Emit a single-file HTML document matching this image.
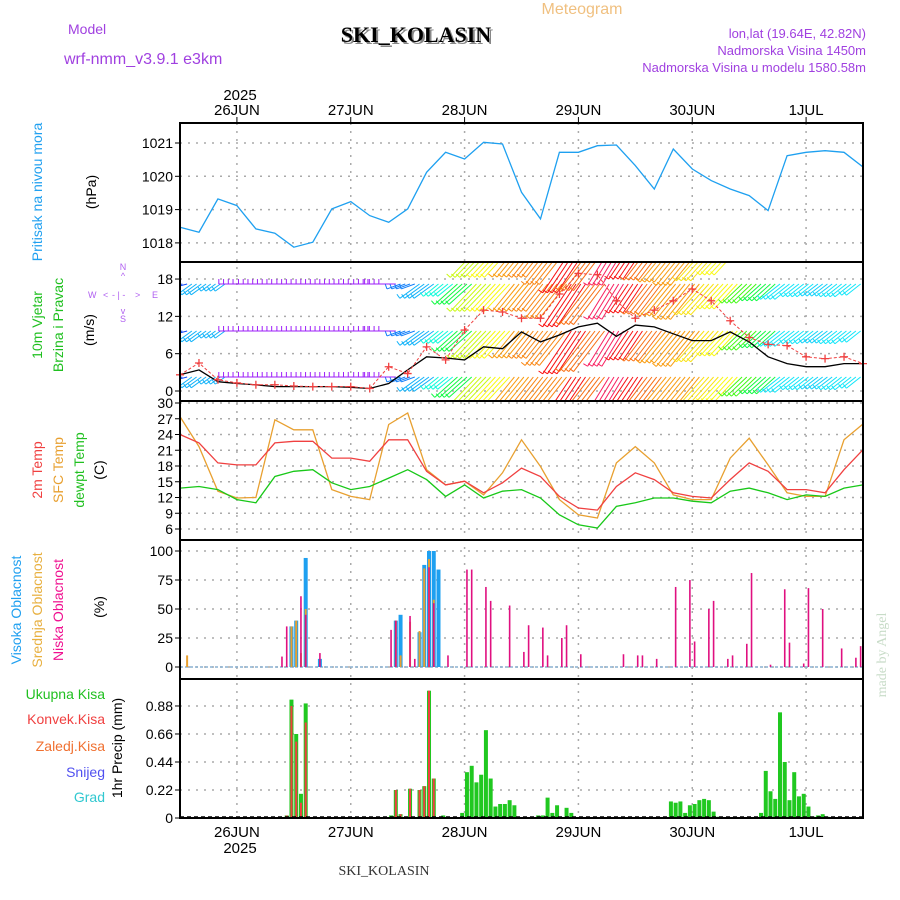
<!DOCTYPE html>
<html><head><meta charset="utf-8"><style>
html,body{margin:0;padding:0;background:#fff;}
svg{display:block;font-family:"Liberation Sans",sans-serif;}
</style></head><body>
<svg id="chart" width="900" height="900" viewBox="0 0 900 900" xmlns="http://www.w3.org/2000/svg">
<defs><clipPath id="clipWind"><rect x="180" y="262" width="683" height="139"/></clipPath></defs>
<text x="582" y="14" fill="#f0c080" font-size="16" text-anchor="middle">Meteogram</text>
<text x="68" y="34" fill="#a040e0" font-size="14">Model</text>
<text x="64" y="64" fill="#a040e0" font-size="16">wrf-nmm_v3.9.1 e3km</text>
<text x="418" y="44" fill="#888" font-size="22" font-weight="bold" text-anchor="middle" font-family="Liberation Serif,serif">SKI_KOLASIN</text>
<text x="416" y="42" fill="#000" font-size="22" font-weight="bold" text-anchor="middle" font-family="Liberation Serif,serif">SKI_KOLASIN</text>
<text x="866" y="38" fill="#a040e0" font-size="13" text-anchor="end">lon,lat (19.64E, 42.82N)</text>
<text x="866" y="55" fill="#a040e0" font-size="13" text-anchor="end">Nadmorska Visina 1450m</text>
<text x="866" y="72" fill="#a040e0" font-size="13" text-anchor="end">Nadmorska Visina u modelu 1580.58m</text>
<text x="240" y="100" font-size="15" text-anchor="middle">2025</text>
<g id="grid"></g>
<g id="marks"></g>
<g id="frame"></g>
<g id="labels" font-size="14">
<text transform="translate(42,192) rotate(-90)" fill="#20a0f0" text-anchor="middle">Pritisak na nivou mora</text>
<text transform="translate(96,192) rotate(-90)" fill="#000" text-anchor="middle">(hPa)</text>
<text transform="translate(42,325) rotate(-90)" fill="#20c020" text-anchor="middle">10m Vjetar</text>
<text transform="translate(63,325) rotate(-90)" fill="#20c020" text-anchor="middle">Brzina i Pravac</text>
<text transform="translate(94,330) rotate(-90)" fill="#000" text-anchor="middle">(m/s)</text>
<g fill="#b060f0" font-size="9">
<text x="123" y="270" text-anchor="middle">N</text><text x="123" y="279" text-anchor="middle">^</text>
<text x="88" y="298">W</text><text x="103" y="298">&lt;</text><text x="112" y="298">- | -</text><text x="135" y="298">&gt;</text><text x="152" y="298">E</text>
<text x="123" y="314" text-anchor="middle">v</text><text x="123" y="322" text-anchor="middle">S</text>
</g>
<text transform="translate(42,470) rotate(-90)" fill="#f04040" text-anchor="middle">2m Temp</text>
<text transform="translate(63,470) rotate(-90)" fill="#e8a030" text-anchor="middle">SFC Temp</text>
<text transform="translate(84,470) rotate(-90)" fill="#20c020" text-anchor="middle">dewpt Temp</text>
<text transform="translate(104,470) rotate(-90)" fill="#000" text-anchor="middle">(C)</text>
<text transform="translate(21,610) rotate(-90)" fill="#20a0f0" text-anchor="middle">Visoka Oblacnost</text>
<text transform="translate(42,610) rotate(-90)" fill="#e8b040" text-anchor="middle">Srednja Oblacnost</text>
<text transform="translate(63,610) rotate(-90)" fill="#f01090" text-anchor="middle">Niska Oblacnost</text>
<text transform="translate(104,607) rotate(-90)" fill="#000" text-anchor="middle">(%)</text>
<text x="105" y="699" fill="#20c020" text-anchor="end">Ukupna  Kisa</text>
<text x="105" y="724" fill="#f04040" text-anchor="end">Konvek.Kisa</text>
<text x="105" y="751" fill="#f07030" text-anchor="end">Zaledj.Kisa</text>
<text x="105" y="777" fill="#5050f0" text-anchor="end">Snijeg</text>
<text x="105" y="802" fill="#30c8d0" text-anchor="end">Grad</text>
<text transform="translate(122,748) rotate(-90)" fill="#000" text-anchor="middle">1hr Precip (mm)</text>
<text x="240" y="853" font-size="15" text-anchor="middle">2025</text>
<text x="384" y="875" font-size="14" text-anchor="middle" font-family="Liberation Serif,serif" fill="#333">SKI_KOLASIN</text>
<text transform="translate(886,655) rotate(-90)" fill="#c8dcc8" font-size="14" text-anchor="middle" font-family="Liberation Serif,serif">made by Angel</text>
</g>
</svg>
<script>
// 4-hourly samples from 25JUN 12Z (h=0) to 1JUL 12Z (h=144)
const sampleHours = [0,4,8,12,16,20,24,28,32,36,40,44,48,52,56,60,64,68,72,76,80,84,88,92,96,100,104,108,112,116,120,124,128,132,136,140,144];
const pressure = [1018.47,1018.32,1019.32,1019.12,1018.42,1018.29,1017.87,1018.02,1019.02,1019.24,1018.82,1018.62,1019.02,1020.12,1020.72,1020.52,1021.02,1020.97,1019.52,1018.72,1020.72,1020.72,1020.92,1020.94,1020.32,1019.62,1020.82,1020.22,1019.87,1019.62,1019.42,1018.97,1020.62,1020.72,1020.77,1020.72,1020.28];
const windSpeed = [2.6,3.4,1.5,1.2,1.0,0.7,0.7,0.7,0.7,0.6,0.4,1.2,3.4,5.5,5.3,5.0,7.1,6.8,9.5,7.9,9.0,10.3,10.9,8.8,10.6,10.3,9.2,8.1,8.1,9.5,7.9,5.5,4.4,3.9,3.9,4.4,4.4];
const windGust = [2.6,4.5,1.8,1.3,1.0,1.0,0.8,0.7,0.7,0.7,0.4,3.9,2.8,7.1,5.0,9.8,13.0,12.7,11.7,11.7,15.6,18.9,18.7,14.5,11.7,13.0,14.5,16.4,14.5,11.3,8.6,7.5,7.3,5.5,5.2,5.5,4.4];
const windDir = [255,245,245,270,270,270,270,270,270,270,270,270,250,245,238,232,222,220,212,210,210,200,208,195,200,208,212,212,218,220,228,232,240,240,242,240,240];
const tempSfc = [27.4,21.7,13.2,11.9,12.0,26.8,24.9,24.9,13.5,12.2,11.6,25.9,28.1,17.3,14.4,15.1,12.5,16.7,23.0,17.9,11.6,8.7,8.1,18.6,21.7,18.6,12.5,11.6,11.6,19.5,23.3,18.2,12.9,12.2,12.2,23.0,26.0];
const temp2m = [24.0,22.4,18.6,18.2,18.2,22.4,22.7,22.7,19.5,19.5,18.9,23.0,23.0,17.0,14.4,15.1,12.9,14.8,17.6,16.0,12.2,10.0,9.6,14.1,16.7,15.4,12.9,12.2,11.9,15.4,18.6,17.0,13.5,13.5,12.9,17.3,21.1];
const dewpt = [13.8,14.1,13.5,11.6,11.0,16.0,17.0,17.3,14.8,13.5,14.1,15.7,17.3,15.4,12.2,14.4,11.9,13.2,13.5,11.9,8.7,6.8,6.2,10.3,11.0,11.9,11.9,11.3,11.0,13.2,13.8,12.9,11.6,12.5,12.2,13.8,14.4];
const highCloudHours = [23,24,26,29,45,46,50,51,52,53,54];
const highCloud = [35,40,94,7,40,45,30,88,100,100,84];
const midCloudHours = [1,23,24,25,26,45,46,48,50,51,52,53];
const midCloud = [10,35,40,12,50,40,10,39,31,85,93,58];
const lowCloudHours = [21,22,25,26,29,44,45,48,49,52,53,56,60,61,64,65,69,72,73,76,77,80,81,84,93,96,97,100,104,107,108,111,112,115,116,119,120,124,127,128,131,132,135,139,142,143];
const lowCloud = [9,35,61,45,12,32,40,44,7,86,55,10,84,84,69,57,53,13,36,34,10,25,36,11,11,10,10,7,69,75,22,50,57,7,10,20,81,2,67,21,3,68,50,16,8,18];
const rainHours = [22,23,24,25,26,44,45,46,48,50,51,52,53,55,59,60,61,62,63,64,65,66,67,68,69,70,75,76,77,78,79,81,82,103,104,105,106,107,108,109,110,111,112,113,122,123,124,125,126,127,128,129,130,131,132,133,134,135,136];
const rainTotal = [0.02,0.93,0.66,0.19,0.90,0.02,0.22,0.03,0.23,0.22,0.25,1.00,0.31,0.02,0.04,0.36,0.41,0.28,0.34,0.69,0.31,0.09,0.11,0.11,0.14,0.10,0.02,0.02,0.16,0.04,0.10,0.08,0.04,0.13,0.12,0.13,0.04,0.10,0.11,0.14,0.15,0.14,0.05,0.01,0.04,0.37,0.21,0.15,0.83,0.44,0.14,0.36,0.17,0.19,0.09,0.01,0.02,0.03,0.01];
const convHours = [22,23,24,25,26,45,46,48,50,51,52,53];
const rainConv = [0.02,0.88,0.60,0.12,0.75,0.22,0.03,0.23,0.22,0.25,1.00,0.31];
const dayHours = [12,36,60,84,108,132];
const dayLabels = ['26JUN','27JUN','28JUN','29JUN','30JUN','1JUL'];
const pressTicks = [1018,1019,1020,1021];
const windTicks = [0,6,12,18];
const tempTicks = [6,9,12,15,18,21,24,27,30];
const cloudTicks = [0,25,50,75,100];
const precipTicks = [0,0.22,0.44,0.66,0.88];

const NS='http://www.w3.org/2000/svg';
const X0=180, X1=863;
const P={press:[123,262],wind:[262,401],temp:[401,540],cloud:[540,679],precip:[679,818]};
const xOf=h=>X0+h*(X1-X0)/144;
const yPress=v=>143-(v-1021)*33.3;
const yWind=v=>391-v*6.22;
const yTemp=v=>529-(v-6)*5.25;
const yCloud=v=>667-v*1.16;
const yPrecip=v=>818-v*127.3;
const grid=document.getElementById('grid'), marks=document.getElementById('marks'), frame=document.getElementById('frame');
function mk(tag,attrs,parent){const e=document.createElementNS(NS,tag);for(const k in attrs)e.setAttribute(k,attrs[k]);parent.appendChild(e);return e;}
function txt(x,y,s,parent,anchor,size){const t=mk('text',{x:x,y:y,'text-anchor':anchor||'end','font-size':size||14},parent);t.textContent=s;return t;}

dayHours.forEach((h,i)=>{
  const x=xOf(h);
  const g=mk('line',{x1:x,x2:x,y1:123,y2:818,stroke:'#aaa','stroke-width':1.5,'stroke-dasharray':'2,6'},grid);
  
  
  const t=txt(x,115,dayLabels[i],grid,'middle',15);
  
  
  const b=txt(x,837,dayLabels[i],grid,'middle',15);
  
  
  mk('line',{x1:x,x2:x,y1:117,y2:123,stroke:'#000'},grid);
});
function hgrid(ticks,yf,fmt,name){
  ticks.forEach(v=>{
    const y=yf(v);
    const l=mk('line',{x1:X0,x2:X1,y1:y,y2:y,stroke:'#aaa','stroke-width':1.5,'stroke-dasharray':'2,6'},grid);
    
    
    mk('line',{x1:X0-5,x2:X0,y1:y,y2:y,stroke:'#000'},grid);
    const t=txt(X0-7,y+5,fmt(v),grid,'end',14);
    
    
  });
}
hgrid(pressTicks,yPress,v=>String(v),'pressure');
hgrid(windTicks,yWind,v=>String(v),'wind');
hgrid(tempTicks,yTemp,v=>String(v),'temp');
hgrid(cloudTicks,yCloud,v=>String(v),'cloud');
hgrid(precipTicks,yPrecip,v=>v===0?'0':v.toFixed(2),'precip');

function line(vals,yf,color,name,w){
  const pts=vals.map((v,i)=>xOf(sampleHours[i]).toFixed(1)+','+yf(v).toFixed(1)).join(' ');
  const p=mk('polyline',{points:pts,fill:'none',stroke:color,'stroke-width':w||1.3},marks);
  
  
  return p;
}
line(pressure,yPress,'#1ea0f0','pressure-line');

const hueKeys=[[270,275],[255,225],[240,185],[230,120],[220,60],[210,30],[200,0],[190,-35]];
function hueOf(d){
  for(let i=0;i<hueKeys.length-1;i++){const a=hueKeys[i],b=hueKeys[i+1];
    if(d<=a[0]&&d>=b[0]){const t=(a[0]-d)/(a[0]-b[0]);return a[1]+(b[1]-a[1])*t;}}
  return d>270?275:-35;
}
const wg=mk('g',{'clip-path':'url(#clipWind)'},marks);


const rows=[250,284,331,377];
for(let h=0;h<144;h++){
  const i=Math.min(sampleHours.length-1,Math.round(h/4));
  const d=windDir[i], g=windGust[i];
  const hue=(hueOf(d)+360)%360;
  const col='hsl('+hue+',95%,'+(hue>240?'55%':'52%')+')';
  const L=8+g*2.3;
  const dd=d<250?225+(d-225)*0.45:d;
  const a=dd*Math.PI/180;
  rows.forEach((ry,r)=>{
    if(r===0&&g<10)return;
    const x=xOf(h+0.5);
    const x2=x+Math.sin(a)*L, y2=ry-Math.cos(a)*L;
    const b=mk('line',{x1:x,y1:ry,x2:x2,y2:y2,stroke:col,'stroke-width':1},wg);
    
    
    const fa=a+Math.PI/2;
    mk('line',{x1:x2,y1:y2,x2:x2+Math.sin(fa)*5,y2:y2-Math.cos(fa)*5,stroke:col,'stroke-width':1},wg);
  });
}
line(windSpeed,yWind,'#000','wind-speed-line',1.3);
const gl=line(windGust,yWind,'#f04040','wind-gust-line',1);
gl.setAttribute('stroke-dasharray','3,2');
windGust.forEach((v,i)=>{
  const x=xOf(sampleHours[i]),y=yWind(v);
  const c=mk('path',{d:`M${x-4},${y}h8M${x},${y-4}v8`,stroke:'#f04040','stroke-width':1.3},marks);
  
  
});

line(tempSfc,yTemp,'#e8a030','sfc-temp-line');
line(temp2m,yTemp,'#f04040','t2m-line');
line(dewpt,yTemp,'#18c818','dewpt-line');

mk('line',{x1:X0,x2:X1,y1:667,y2:667,stroke:'#8ab0d0','stroke-width':1.5,'stroke-dasharray':'3,2'},marks);
function bars(hours,vals,yf,color,w,name,y0){
  vals.forEach((v,i)=>{
    const x=xOf(hours[i]+0.5), y=yf(v);
    const r=mk('rect',{x:x-w/2,y:y,width:w,height:Math.max(0,y0-y),fill:color},marks);
    
    
  });
}
bars(highCloudHours,highCloud,yCloud,'#1ea0f0',4,'high-cloud-bar',667);
bars(midCloudHours,midCloud,yCloud,'#e8a030',2,'mid-cloud-bar',667);
bars(lowCloudHours,lowCloud,yCloud,'#e01080',1.6,'low-cloud-bar',667);
bars(rainHours,rainTotal,yPrecip,'#20c820',4,'total-precip-bar',818);
bars(convHours,rainConv,yPrecip,'#f04040',2,'convective-precip-bar',818);
mk('line',{x1:X0,x2:X1,y1:817,y2:817,stroke:'#000','stroke-width':1.5,'stroke-dasharray':'4,3'},marks);

Object.keys(P).forEach(k=>{
  const r=mk('rect',{x:X0,y:P[k][0],width:X1-X0,height:P[k][1]-P[k][0],fill:'none',stroke:'#000','stroke-width':2},frame);
  
  
});
</script>
</body></html>
